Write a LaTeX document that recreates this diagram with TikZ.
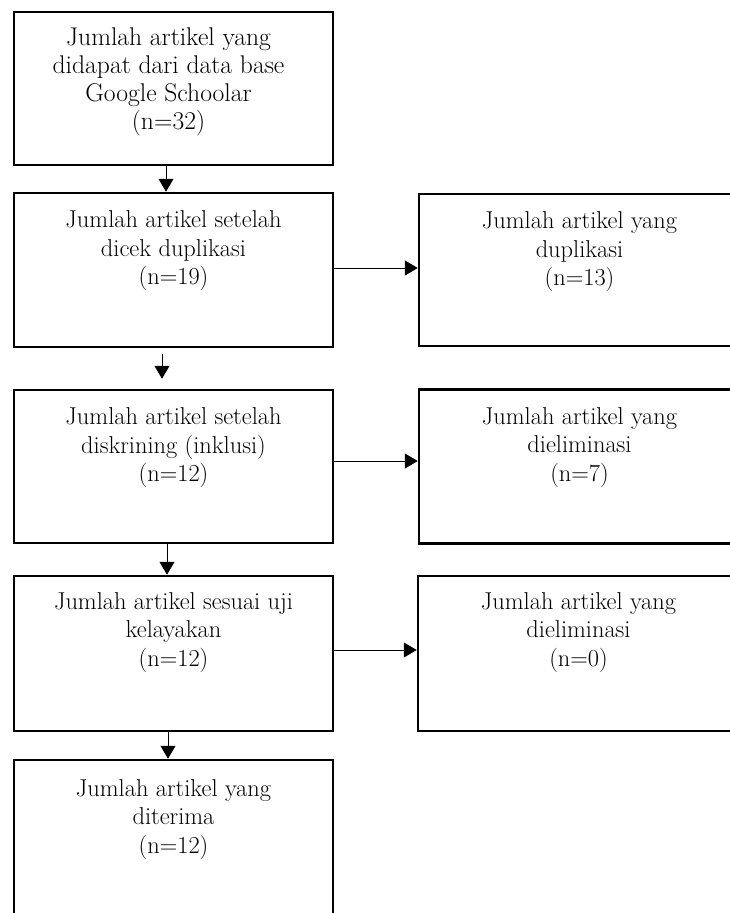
\documentclass[tikz,border=0pt]{standalone}
\usepackage{fontspec}
\usetikzlibrary{arrows.meta, positioning}

\tikzset{
	kotak/.style={draw, line width=2.5pt, minimum width=319pt, minimum height=153pt, inner sep=0pt},
	isi/.style={anchor=north, align=center, inner sep=0pt, font=\fontsize{24.4}{28.5}\selectfont},
	panah/.style={-{Triangle[length=13pt, width=15pt]}, line width=1pt},
}

\begin{document}
\begin{tikzpicture}[x=1pt, y=1pt, line join=miter]

\path[use as bounding box, clip] (0,0) rectangle (730,-913);

%========================
% Left column: main flow
%========================
\node[kotak] (cari) at (173.5,-88.5) {};
\node[kotak, minimum height=154pt] (duplikat) at (173.5,-270) {};
\node[kotak] (skrining) at (173.5,-466.5) {};
\node[kotak, minimum height=155pt] (layak) at (173.5,-653.5) {};
\node[kotak, minimum height=157pt] (terima) at (173.5,-838.5) {};

\node[isi, font=\fontsize{25.6}{28}\selectfont] (t-cari) at ([xshift=-5pt, yshift=-17.2pt]cari.north)
	{Jumlah artikel yang\\didapat dari data base\\Google Schoolar\\(n=32)};
\node[isi] (t-duplikat) at ([yshift=-19.1pt]duplikat.north)
	{Jumlah artikel setelah\\dicek duplikasi\\(n=19)};
\node[isi] (t-skrining) at ([yshift=-19.1pt]skrining.north)
	{Jumlah artikel setelah\\diskrining (inklusi)\\(n=12)};
\node[isi] (t-layak) at ([yshift=-17.6pt]layak.north)
	{Jumlah artikel sesuai uji\\kelayakan\\(n=12)};
\node[isi] (t-terima) at ([yshift=-20.6pt]terima.north)
	{Jumlah artikel yang\\diterima\\(n=12)};

%========================
% Right column: excluded
%========================
\node[kotak, minimum height=152pt] (dup) at (578.5,-270) {};
\node[kotak, minimum height=154pt] (elim1) at (578.5,-466.5) {};
\node[kotak, minimum height=155pt] (elim2) at (577.5,-653.5) {};

\node[isi] (t-dup) at ([xshift=1pt, yshift=-19.1pt]dup.north)
	{Jumlah artikel yang\\duplikasi\\(n=13)};
\node[isi] (t-elim1) at ([xshift=1pt, yshift=-19.1pt]elim1.north)
	{Jumlah artikel yang\\dieliminasi\\(n=7)};
\node[isi] (t-elim2) at ([xshift=1pt, yshift=-17.6pt]elim2.north)
	{Jumlah artikel yang\\dieliminasi\\(n=0)};

% arrows down
\draw[panah] ([xshift=-7.5pt]cari.south) -- ([xshift=-7.5pt]duplikat.north);
\draw[panah] ([xshift=-11.5pt, yshift=-6pt]duplikat.south) -- ([xshift=-11.5pt, yshift=10pt]skrining.north);
\draw[panah] ([xshift=-6.5pt]skrining.south) -- ([xshift=-6.5pt]layak.north);
\draw[panah] ([xshift=-5.5pt]layak.south) -- ([xshift=-5.5pt]terima.north);

% arrows right
\draw[panah] ([yshift=2pt]duplikat.east) -- ([yshift=2pt]dup.west);
\draw[panah] ([yshift=5.5pt]skrining.east) -- ([yshift=5.5pt]elim1.west);
\draw[panah] ([yshift=3.5pt]layak.east) -- ([yshift=3.5pt]elim2.west);

\end{tikzpicture}
\end{document}
